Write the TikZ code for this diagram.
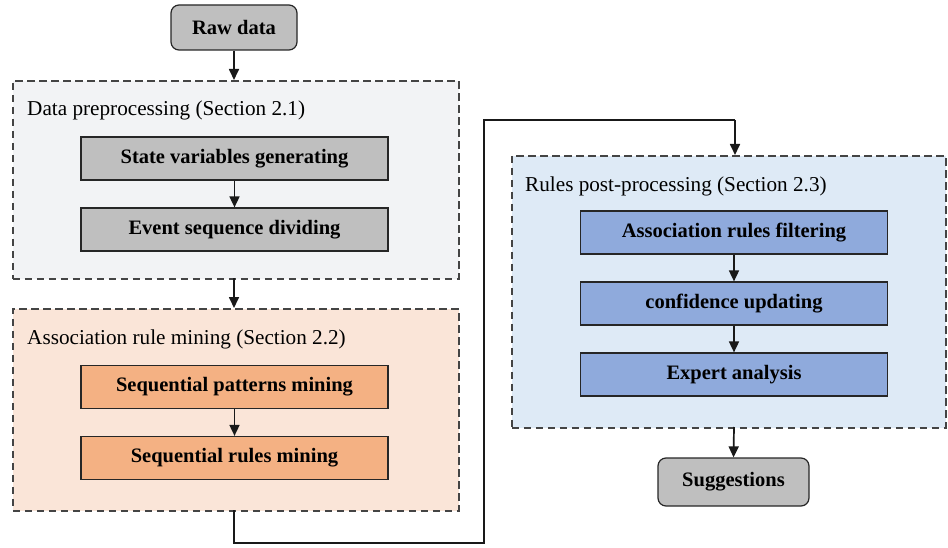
\documentclass[tikz,border=0pt]{standalone}
\usepackage{fontspec}
\setmainfont{Liberation Serif}
\usetikzlibrary{arrows.meta,positioning}
\definecolor{grayfill}{HTML}{BFBFBF}
\definecolor{grpA}{HTML}{F2F3F5}
\definecolor{grpB}{HTML}{FAE5D8}
\definecolor{grpC}{HTML}{DEEAF6}
\definecolor{orangefill}{HTML}{F4B183}
\definecolor{bluefill}{HTML}{8FAADC}
\definecolor{dashcol}{HTML}{444444}
\tikzset{
  every node/.style={font=\fontsize{21.2}{25}\selectfont},
  group/.style={draw=dashcol, line width=1.6pt, dash pattern=on 7.5pt off 4.5pt, anchor=north west, inner sep=0pt},
  stepbox/.style={draw=black!85, line width=1.2pt, minimum width=307pt, minimum height=43pt, inner sep=0pt, font=\fontsize{20.5}{24}\selectfont\bfseries},
  termbox/.style={draw=black!85, line width=1.2pt, rounded corners=8pt, fill=grayfill, inner sep=0pt, font=\fontsize{20.5}{24}\selectfont\bfseries},
  grplabel/.style={anchor=west, inner sep=0pt},
  arr/.style={-{Triangle[length=11pt,width=10pt]}, line width=1.7pt, black!90},
  conn/.style={line width=1.7pt, black!90}
}
\begin{document}
\begin{tikzpicture}[x=1pt,y=-1pt]
\useasboundingbox (0,0) rectangle (948,548);
% groups
\node[group, fill=grpA, minimum width=446pt, minimum height=198pt] (g1) at (12,80) {};
\node[group, fill=grpB, minimum width=446pt, minimum height=202pt] (g2) at (12,308) {};
\node[group, fill=grpC, minimum width=434pt, minimum height=272pt] (g3) at (511,155) {};
\node[grplabel] (l1) at (27,110) {Data preprocessing (Section 2.1)};
\node[grplabel] (l2) at (27,339) {Association rule mining (Section 2.2)};
\node[grplabel] (l3) at (525,186) {Rules post-processing (Section 2.3)};
% terminals
\node[termbox, minimum width=126pt, minimum height=45pt] (raw) at (234,27.5) {Raw data};
\node[termbox, minimum width=151pt, minimum height=48pt] (sug) at (733.5,482) {Suggestions};
% steps
\node[stepbox, fill=grayfill] (s1) at (234.5,158.5) {State variables generating};
\node[stepbox, fill=grayfill] (s2) at (234.5,229.5) {Event sequence dividing};
\node[stepbox, fill=orangefill] (s3) at (234.5,387) {Sequential patterns mining};
\node[stepbox, fill=orangefill] (s4) at (234.5,458) {Sequential rules mining};
\node[stepbox, fill=bluefill] (s5) at (734,232.5) {Association rules filtering};
\node[stepbox, fill=bluefill] (s6) at (734,303.5) {confidence updating};
\node[stepbox, fill=bluefill] (s7) at (734,374.5) {Expert analysis};
% connectors
\coordinate (c1) at (234,543);
\coordinate (c2) at (484,543);
\coordinate (c3) at (484,120);
\coordinate (c4) at (735,120);
\draw[arr] (raw.south) -- (raw.south |- g1.north);
\draw[arr] (s1) -- (s2);
\draw[arr] (234,278) -- (234,308);
\draw[arr] (s3) -- (s4);
\draw[conn] (234,510) -- (c1) -- (c2) -- (c3) -- (c4);
\draw[arr] (c4) -- (735,155);
\draw[arr] (s5) -- (s6);
\draw[arr] (s6) -- (s7);
\draw[arr] (734,427) -- (sug.north);
\end{tikzpicture}
\end{document}
